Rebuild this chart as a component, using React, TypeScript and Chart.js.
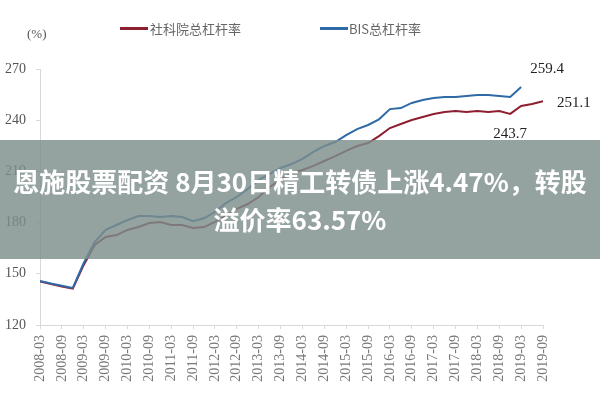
import React, { useEffect, useRef } from 'react';
import { Chart, registerables } from 'chart.js';

Chart.register(...registerables);

// Semi-annual tick labels (x value = quarter index, ticks every 2 quarters)
const tickLabels = [
  '2008-03', '2008-09', '2009-03', '2009-09', '2010-03', '2010-09',
  '2011-03', '2011-09', '2012-03', '2012-09', '2013-03', '2013-09',
  '2014-03', '2014-09', '2015-03', '2015-09', '2016-03', '2016-09',
  '2017-03', '2017-09', '2018-03', '2018-09', '2019-03', '2019-09',
];

// 社科院总杠杆率, quarterly from 2008-03 to 2019-09
const caassValues = [
  145.5, 144.0, 142.6, 141.3, 155.2, 166.9, 171.6, 172.7, 175.7, 177.4,
  179.8, 180.4, 178.6, 178.6, 176.8, 177.4, 180.4, 183.9, 188.0, 190.9,
  195.0, 200.9, 205.0, 209.1, 210.8, 213.2, 216.1, 219.0, 222.0, 224.9,
  226.6, 230.7, 235.4, 237.8, 240.1, 241.9, 243.6, 244.8, 245.4, 244.8,
  245.4, 244.8, 245.4, 243.7, 248.3, 249.5, 251.1,
];

// BIS总杠杆率, quarterly from 2008-03 to 2019-03
const bisValues = [
  145.8, 144.3, 143.0, 141.7, 156.3, 168.6, 175.7, 178.6, 181.5, 183.9,
  183.9, 183.3, 183.9, 183.3, 180.8, 182.5, 186.2, 191.5, 195.0, 199.7,
  205.0, 208.5, 212.0, 214.3, 217.3, 221.4, 224.9, 227.2, 231.3, 234.8,
  237.2, 240.5, 246.5, 247.1, 250.1, 251.8, 253.0, 253.6, 253.6, 254.2,
  254.8, 254.8, 254.2, 253.6, 259.4,
];

const seriesNames = ['社科院总杠杆率', 'BIS总杠杆率'];
const yTicks = [120, 150, 180, 210, 240, 270];

// annotated values: [quarter index, value, label]
const annotations: [number, number, string][] = [
  [44, 259.4, '259.4'],
  [46, 251.1, '251.1'],
  [43, 243.7, '243.7'],
];

const headline = ['恩施股票配资 8月30日精工转债上涨4.47%，转股', '溢价率63.57%'];

const RED = '#8e1f30';
const BLUE = '#2f6aa6';

const overlayPlugin = {
  id: 'customDecor',
  afterDraw(chart: any) {
    const ctx = chart.ctx;
    const xs = chart.scales.x;
    const ys = chart.scales.y;
    ctx.save();
    // unit
    ctx.fillStyle = '#555';
    ctx.font = '13px "Liberation Serif"';
    ctx.textAlign = 'left';
    ctx.textBaseline = 'middle';
    ctx.fillText('(%)', 27, 35);
    // legend
    ctx.lineWidth = 3;
    ctx.strokeStyle = RED;
    ctx.beginPath();
    ctx.moveTo(120, 28.5);
    ctx.lineTo(148, 28.5);
    ctx.stroke();
    ctx.strokeStyle = BLUE;
    ctx.beginPath();
    ctx.moveTo(320, 28.5);
    ctx.lineTo(348, 28.5);
    ctx.stroke();
    ctx.fillStyle = '#666';
    ctx.font = '13px "Noto Sans CJK SC"';
    ctx.fillText(seriesNames[0], 150, 29);
    ctx.fillText(seriesNames[1], 349, 29);
    // value annotations
    ctx.fillStyle = '#222';
    ctx.font = '15px "Liberation Serif"';
    const offs: [number, number][] = [[9, -18], [14, 2], [-17, 20]];
    annotations.forEach((a, i) => {
      const px = xs.getPixelForValue(a[0]) + offs[i][0];
      const py = ys.getPixelForValue(a[1]) + offs[i][1];
      ctx.fillText(a[2], px, py);
    });
    ctx.restore();
  },
};

export default function App() {
  const ref = useRef<HTMLCanvasElement | null>(null);

  useEffect(() => {
    if (!ref.current) return;
    const chart = new Chart(ref.current, {
      type: 'line',
      data: {
        datasets: [
          {
            label: seriesNames[1],
            data: bisValues.map((v, i) => ({ x: i, y: v })),
            borderColor: BLUE,
            borderWidth: 2,
            pointRadius: 0,
            tension: 0,
            fill: false,
          },
          {
            label: seriesNames[0],
            data: caassValues.map((v, i) => ({ x: i, y: v })),
            borderColor: RED,
            borderWidth: 2,
            pointRadius: 0,
            tension: 0,
            fill: false,
          },
        ],
      },
      options: {
        animation: false,
        responsive: false,
        maintainAspectRatio: false,
        layout: { padding: { top: 69, right: 57, bottom: 0, left: 0 } },
        plugins: {
          legend: { display: false },
          tooltip: { enabled: false },
        },
        scales: {
          x: {
            type: 'linear',
            min: 0,
            max: (tickLabels.length - 1) * 2,
            afterFit(scale: any) {
              scale.height = 75;
            },
            afterBuildTicks(scale: any) {
              scale.ticks = tickLabels.map((_, i) => ({ value: i * 2 }));
            },
            ticks: {
              autoSkip: false,
              maxRotation: 90,
              minRotation: 90,
              padding: 6,
              color: '#777',
              font: { family: '"Liberation Serif"', size: 14 },
              callback: (v: any) => tickLabels[Math.round(v / 2)] ?? '',
            },
            grid: {
              drawOnChartArea: false,
              drawTicks: true,
              tickLength: 4,
              color: '#d9d9d9',
            },
            border: { display: true, color: '#d9d9d9' },
          },
          y: {
            min: yTicks[0],
            max: yTicks[yTicks.length - 1],
            afterFit(scale: any) {
              scale.width = 40;
            },
            afterBuildTicks(scale: any) {
              scale.ticks = yTicks.map((v) => ({ value: v }));
            },
            ticks: {
              padding: 10,
              color: '#555',
              font: { family: '"Liberation Serif"', size: 14 },
            },
            grid: {
              drawOnChartArea: false,
              drawTicks: true,
              tickLength: 4,
              color: '#d9d9d9',
            },
            border: { display: true, color: '#d9d9d9' },
          },
        },
      },
      plugins: [overlayPlugin],
    });
    return () => chart.destroy();
  }, []);

  return (
    <div style={{ position: 'fixed', left: 0, top: 0, width: 600, height: 400, background: '#fff' }}>
      <canvas ref={ref} width={600} height={400} style={{ display: 'block', width: 600, height: 400 }} />
      <div
        style={{
          position: 'absolute',
          left: 0,
          top: 140,
          width: 600,
          height: 119,
          boxSizing: 'border-box',
          paddingTop: 22,
          background: 'rgba(125,141,139,0.82)',
          color: '#fff',
          fontFamily: '"Noto Sans CJK SC", sans-serif',
          fontWeight: 'bold',
          fontSize: 26,
          lineHeight: '38px',
          textAlign: 'center',
          whiteSpace: 'nowrap',
        }}
      >
        <div>{headline[0]}</div>
        <div>{headline[1]}</div>
      </div>
    </div>
  );
}
